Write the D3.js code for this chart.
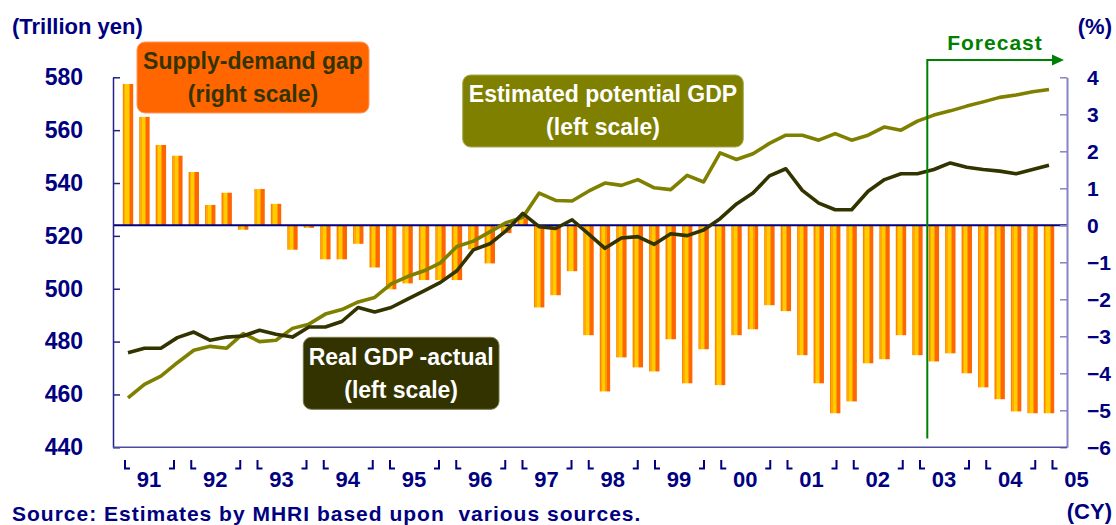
<!DOCTYPE html>
<html>
<head>
<meta charset="utf-8">
<script src="https://cdn.jsdelivr.net/npm/d3@7"></script>
<style>
body { margin: 0; background: #fff; }
svg { display: block; font-family: "Liberation Sans", Arial, sans-serif; font-weight: bold; }
</style>
</head>
<body>
<div id="chart"></div>
<script>
// year labels on the x axis
var years = ["91", "92", "93", "94", "95", "96", "97", "98", "99", "00", "01", "02", "03", "04", "05"];

// quarterly categories, 91Q1 .. 05Q1
var quarters = [];
years.forEach(function(y) {
    for (var q = 1; q <= 4; q++) quarters.push(y + "Q" + q);
});
quarters = quarters.slice(0, 57);

// estimated potential GDP (trillion yen, left scale)
var potentialGdp = [458.7, 463.8, 466.9, 472.0, 476.7, 478.2, 477.5, 483.0, 480.0, 480.5,
    485.0, 486.6, 490.4, 492.1, 495.0, 496.7, 501.8, 504.6, 506.8, 509.8,
    516.0, 518.0, 521.5, 525.0, 527.0, 536.2, 533.4, 533.2, 536.9, 540.0,
    539.1, 541.3, 538.2, 537.5, 542.9, 540.4, 551.4, 548.9, 551.1, 555.0,
    558.1, 558.1, 556.2, 558.7, 556.2, 558.1, 561.2, 560.0, 563.4, 565.7,
    567.3, 569.1, 570.7, 572.4, 573.3, 574.5, 575.4];

// real GDP, actual (trillion yen, left scale)
var realGdp = [475.8, 477.5, 477.5, 481.5, 483.6, 480.5, 481.7, 482.1, 484.3, 482.8,
    481.7, 485.5, 485.5, 487.6, 492.9, 491.2, 492.9, 496.1, 499.2, 502.4,
    506.8, 514.7, 517.0, 522.0, 528.5, 523.5, 522.8, 526.1, 520.8, 515.3,
    519.2, 519.7, 516.8, 520.8, 520.1, 522.2, 526.5, 532.1, 536.2, 542.7,
    545.4, 537.2, 532.4, 529.9, 529.9, 536.9, 541.3, 543.5, 543.5, 545.1,
    547.6, 546.0, 545.1, 544.5, 543.5, 545.1, 546.7];

// supply-demand gap (%, right scale)
var gap = [3.82, 2.93, 2.17, 1.88, 1.44, 0.55, 0.88, -0.12, 0.98, 0.58,
    -0.66, -0.07, -0.92, -0.92, -0.50, -1.14, -1.73, -1.57, -1.48, -1.48,
    -1.48, -0.65, -1.03, -0.21, 0.19, -2.22, -1.89, -1.24, -2.97, -4.49,
    -3.57, -3.84, -3.95, -3.08, -4.27, -3.35, -4.32, -2.97, -2.81, -2.16,
    -2.32, -3.51, -4.27, -5.08, -4.76, -3.73, -3.62, -2.97, -3.51, -3.68,
    -3.46, -4.00, -4.38, -4.70, -5.03, -5.08, -5.08];

var leftTicks = [440, 460, 480, 500, 520, 540, 560, 580];
var rightTicks = [-6, -5, -4, -3, -2, -1, 0, 1, 2, 3, 4];
var forecastStart = "03Q1";

// page and plot area
var width = 1116, height = 525;
var plot = {left: 113, right: 1067, top: 77.3, bottom: 447.3};
var navy = "#000080";

var svg = d3.select("#chart")
    .append("svg")
    .attr("width", width)
    .attr("height", height);

// scales
var x = d3.scalePoint().domain(quarters).range([128, 1049]);
var step = x.step();
var yearX = d3.scalePoint().domain(years).range([125, 1052.5]);
var yL = d3.scaleLinear().domain([440, 580]).range([plot.bottom, plot.top]);
var yR = d3.scaleLinear().domain([-6, 4]).range([plot.bottom, plot.top]);

// striped orange / yellow fill of the bars
var grad = svg.append("defs").append("linearGradient")
    .attr("id", "barFill")
    .attr("x1", "0").attr("x2", "1").attr("y1", "0").attr("y2", "0");
[[0, "#ff8400"], [0.1, "#ff8400"], [0.1, "#ffaa00"], [0.25, "#ffaa00"], [0.25, "#ffcc00"],
 [0.55, "#ffcc00"], [0.55, "#ff9a00"], [0.65, "#ff9a00"], [0.65, "#ff6600"], [1, "#ff6600"]]
    .forEach(function(s) {
        grad.append("stop").attr("offset", s[0]).attr("stop-color", s[1]);
    });

// bars
var barW = 10.4;
svg.append("g")
    .selectAll("rect")
    .data(gap)
    .enter()
    .append("rect")
    .attr("x", function(d, i) { return x(quarters[i]) - barW / 2; })
    .attr("y", function(d) { return Math.min(yR(d), yR(0)); })
    .attr("width", barW)
    .attr("height", function(d) { return Math.abs(yR(d) - yR(0)); })
    .attr("fill", "url(#barFill)");

// zero line of the right scale
svg.append("line")
    .attr("x1", plot.left).attr("x2", plot.right)
    .attr("y1", yR(0)).attr("y2", yR(0))
    .attr("stroke", navy)
    .attr("stroke-width", 2);

// left axis
var gL = svg.append("g")
    .attr("transform", "translate(" + plot.left + ",0)")
    .call(d3.axisLeft(yL).tickValues(leftTicks).tickSize(-7).tickSizeOuter(0).tickPadding(30));
gL.select(".domain").attr("stroke", "#22228a").attr("stroke-width", 1.5);
gL.selectAll(".tick line").attr("stroke", "#22228a").attr("stroke-width", 1.5);
gL.selectAll("text")
    .attr("fill", navy)
    .style("font-size", "23px")
    .style("font-family", "'Liberation Sans', Arial, sans-serif")
    .style("font-weight", "bold");

// right axis
var gR = svg.append("g")
    .attr("transform", "translate(" + plot.right + ",0)")
    .call(d3.axisRight(yR).tickValues(rightTicks).tickSize(-7).tickSizeOuter(0).tickPadding(20));
gR.select(".domain").attr("stroke", "#8585c2").attr("stroke-width", 2);
gR.selectAll(".tick line").attr("stroke", "#8585c2").attr("stroke-width", 1.5);
gR.selectAll("text")
    .attr("fill", navy)
    .style("font-size", "21px")
    .style("font-family", "'Liberation Sans', Arial, sans-serif")
    .style("font-weight", "bold");

// bottom axis line
svg.append("line")
    .attr("x1", plot.left).attr("x2", plot.right)
    .attr("y1", plot.bottom).attr("y2", plot.bottom)
    .attr("stroke", "#4b4ba0")
    .attr("stroke-width", 1.5);

// lines
var line = function(values, axis) {
    return d3.line()
        .x(function(d, i) { return x(quarters[i]); })
        .y(function(d) { return axis(d); })(values);
};
svg.append("path")
    .attr("d", line(potentialGdp, yL))
    .attr("fill", "none")
    .attr("stroke", "#808000")
    .attr("stroke-width", 3.6)
    .attr("stroke-linejoin", "round");
svg.append("path")
    .attr("d", line(realGdp, yL))
    .attr("fill", "none")
    .attr("stroke", "#333300")
    .attr("stroke-width", 3.6)
    .attr("stroke-linejoin", "round");

// year labels with corner brackets
var yearG = svg.append("g").selectAll("g")
    .data(years)
    .enter()
    .append("g")
    .attr("transform", function(d) { return "translate(" + yearX(d) + ",0)"; });
yearG.append("path")
    .attr("d", "M0,460V468.5H5")
    .attr("fill", "none")
    .attr("stroke", navy)
    .attr("stroke-width", 2);
yearG.filter(function(d) { return d !== "05"; })
    .append("path")
    .attr("d", "M44,468.5H49V460")
    .attr("fill", "none")
    .attr("stroke", navy)
    .attr("stroke-width", 2);
yearG.append("text")
    .attr("x", 24)
    .attr("y", 486.5)
    .attr("text-anchor", "middle")
    .attr("fill", navy)
    .style("font-size", "22px")
    .text(function(d) { return d; });

// forecast marker
var fx = x(forecastStart) + step * 0.6;
svg.append("path")
    .attr("d", "M" + fx + ",438.5V60H1054")
    .attr("fill", "none")
    .attr("stroke", "#008000")
    .attr("stroke-width", 2);
svg.append("path")
    .attr("d", "M1052,54.5L1064,60L1052,65.5Z")
    .attr("fill", "#008000");
svg.append("text")
    .attr("x", 995)
    .attr("y", 50)
    .attr("text-anchor", "middle")
    .attr("fill", "#008000")
    .style("font-size", "21px")
    .style("letter-spacing", "1px")
    .text("Forecast");

// axis titles and source
svg.append("text").attr("x", 12).attr("y", 33.5).attr("fill", navy)
    .style("font-size", "22px").text("(Trillion yen)");
svg.append("text").attr("x", 1112).attr("y", 33.5).attr("text-anchor", "end").attr("fill", navy)
    .style("font-size", "22px").text("(%)");
svg.append("text").attr("x", 1112).attr("y", 519).attr("text-anchor", "end").attr("fill", navy)
    .style("font-size", "22px").text("(CY)");
svg.append("text").attr("x", 12).attr("y", 520.5).attr("fill", navy)
    .style("font-size", "21px").style("letter-spacing", "1px")
    .style("white-space", "pre")
    .text("Source: Estimates by MHRI based upon  various sources.");

// series label boxes
var labels = [
    {x: 137, y: 42, w: 232, h: 71, fill: "#ff6600", stroke: "#ff9966", color: "#333300",
        lines: ["Supply-demand gap", "(right scale)"], base: 68.5},
    {x: 462.7, y: 75, w: 280.6, h: 72, fill: "#808000", stroke: "#a8a850", color: "#ffffff",
        lines: ["Estimated potential GDP", "(left scale)"], base: 101.5},
    {x: 303.3, y: 337.3, w: 195.7, h: 72, fill: "#333300", stroke: "#77774a", color: "#ffffff",
        lines: ["Real GDP -actual", "(left scale)"], base: 364.5}
];
labels.forEach(function(l) {
    var g = svg.append("g");
    g.append("rect")
        .attr("x", l.x).attr("y", l.y)
        .attr("width", l.w).attr("height", l.h)
        .attr("rx", 8)
        .attr("fill", l.fill)
        .attr("stroke", l.stroke)
        .attr("stroke-width", 1);
    l.lines.forEach(function(t, i) {
        g.append("text")
            .attr("x", l.x + l.w / 2)
            .attr("y", l.base + i * 33)
            .attr("text-anchor", "middle")
            .attr("fill", l.color)
            .style("font-size", "23px")
            .text(t);
    });
});
</script>
</body>
</html>
